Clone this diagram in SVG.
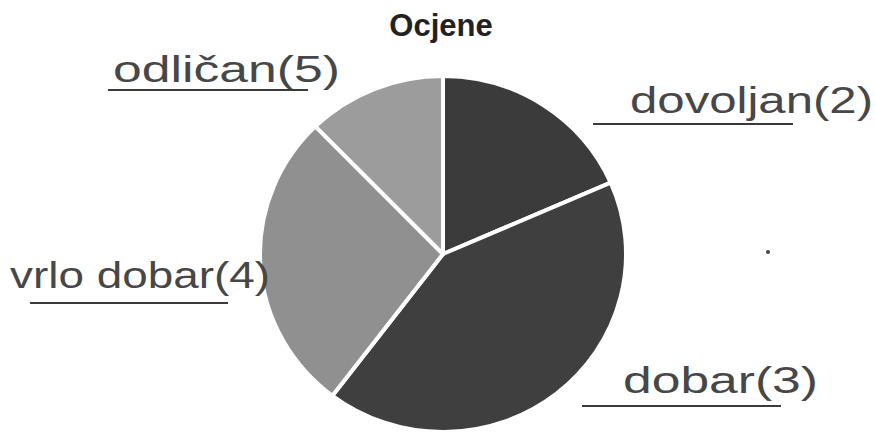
<svg xmlns="http://www.w3.org/2000/svg" width="875" height="433" viewBox="0 0 875 433">
  <style>
    .title { font-family: "Liberation Sans", Arial, sans-serif; font-weight: bold; font-size: 31px; fill: #222; }
    .hand { font-family: "Liberation Sans", Arial, sans-serif; font-size: 36px; fill: #474747; }
    .uline { stroke: #3a3a3a; stroke-width: 2; }
    .slice { stroke: #ffffff; stroke-width: 4; stroke-linejoin: round; }
  </style>
  <rect width="875" height="433" fill="#ffffff"/>
  <text class="title" x="441" y="36" text-anchor="middle">Ocjene</text>

  <g id="pie">
    <g id="slice-dovoljan"><path class="slice" fill="#3b3b3b" d="M443,254 L443,76 A183,178 0 0 1 610.7,182.7 Z"/></g>
    <g id="slice-dobar"><path class="slice" fill="#3f3f3f" d="M443,254 L610.7,182.7 A183,178 0 0 1 332.4,395.8 Z"/></g>
    <g id="slice-vrlo-dobar"><path class="slice" fill="#909090" d="M443,254 L332.4,395.8 A183,178 0 0 1 315.4,126.4 Z"/></g>
    <g id="slice-odlican"><path class="slice" fill="#9c9c9c" d="M443,254 L315.4,126.4 A183,178 0 0 1 443,76 Z"/></g>
  </g>

  <g id="label-odlican">
    <text class="hand" x="113" y="82" textLength="227" lengthAdjust="spacingAndGlyphs">odličan(5)</text>
    <line class="uline" x1="108" y1="90" x2="308" y2="90"/>
  </g>
  <g id="label-dovoljan">
    <text class="hand" x="630" y="113" textLength="243" lengthAdjust="spacingAndGlyphs">dovoljan(2)</text>
    <line class="uline" x1="593" y1="124" x2="793" y2="124"/>
  </g>
  <g id="label-vrlo-dobar">
    <text class="hand" x="10" y="288" textLength="260" lengthAdjust="spacingAndGlyphs">vrlo dobar(4)</text>
    <line class="uline" x1="30" y1="303" x2="228" y2="303"/>
  </g>
  <g id="label-dobar">
    <text class="hand" x="623" y="393" textLength="195" lengthAdjust="spacingAndGlyphs">dobar(3)</text>
    <line class="uline" x1="582" y1="406" x2="781" y2="406"/>
  </g>
  <circle cx="768" cy="252" r="2" fill="#444"/>
</svg>
